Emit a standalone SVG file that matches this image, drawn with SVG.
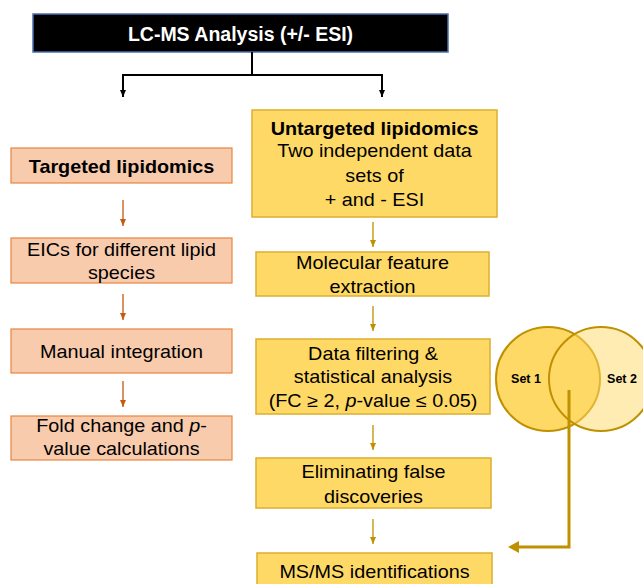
<svg xmlns="http://www.w3.org/2000/svg" width="643" height="584" viewBox="0 0 643 584">
<style>
text{font-family:"Liberation Sans",Arial,sans-serif;font-size:18px;fill:#000;text-anchor:middle}
.b{font-weight:bold}
.left rect{fill:#F8CBAD;stroke:#E8853F;stroke-width:1.2}
.right rect{fill:#FFD966;stroke:#DDAE2E;stroke-width:1.5}
.la{stroke:#C55A11;stroke-width:1.3;fill:none}
.ra{stroke:#BF9000;stroke-width:1.3;fill:none}
.ka{stroke:#000;stroke-width:2;fill:none}
</style>
<defs>
<marker id="mb" markerUnits="userSpaceOnUse" markerWidth="8" markerHeight="8" refX="7" refY="4" orient="auto" viewBox="0 0 8 8"><path d="M0,1 L7,4 L0,7 Z" fill="#000"/></marker>
<marker id="mo" markerUnits="userSpaceOnUse" markerWidth="8" markerHeight="8" refX="7" refY="4" orient="auto" viewBox="0 0 8 8"><path d="M0,1 L7,4 L0,7 Z" fill="#C55A11"/></marker>
<marker id="my" markerUnits="userSpaceOnUse" markerWidth="8" markerHeight="8" refX="7" refY="4" orient="auto" viewBox="0 0 8 8"><path d="M0,1 L7,4 L0,7 Z" fill="#BF9000"/></marker>
</defs>

<g id="lcms">
<rect x="33" y="14" width="415" height="38" fill="#000" stroke="#4A6FB0" stroke-width="1.5"/>
<text x="240.5" y="41" class="b" style="fill:#fff;font-size:19.5px">LC-MS Analysis (+/- ESI)</text>
</g>

<g id="targeted" class="left">
<rect x="11" y="148" width="221" height="35"/>
<g transform="translate(121.5 0) scale(1.1 1)"><text x="0" y="173" class="b">Targeted lipidomics</text></g>
</g>
<g id="eics" class="left">
<rect x="11" y="238" width="221" height="45"/>
<g transform="translate(121.5 0) scale(1.1 1)">
<text x="0" y="256">EICs for different lipid</text>
<text x="0" y="279">species</text>
</g>
</g>
<g id="manual" class="left">
<rect x="11" y="329" width="221" height="44"/>
<g transform="translate(121.5 0) scale(1.1 1)"><text x="0" y="358">Manual integration</text></g>
</g>
<g id="foldchange" class="left">
<rect x="11" y="416" width="221" height="44"/>
<g transform="translate(121.5 0) scale(1.1 1)">
<text x="0" y="432">Fold change and <tspan font-style="italic">p</tspan>-</text>
<text x="0" y="455">value calculations</text>
</g>
</g>

<g id="untargeted" class="right">
<rect x="252" y="110" width="245" height="107"/>
<g transform="translate(374.5 0) scale(1.1 1)">
<text x="0" y="135" class="b">Untargeted lipidomics</text>
<text x="0" y="157">Two independent data</text>
<text x="0" y="182">sets of</text>
<text x="0" y="206">+ and - ESI</text>
</g>
</g>
<g id="molecular" class="right">
<rect x="256" y="252" width="233" height="44"/>
<g transform="translate(372.5 0) scale(1.1 1)">
<text x="0" y="269">Molecular feature</text>
<text x="0" y="293">extraction</text>
</g>
</g>
<g id="filtering" class="right">
<rect x="256" y="339" width="234" height="75"/>
<g transform="translate(373 0) scale(1.1 1)">
<text x="0" y="360">Data filtering &amp;</text>
<text x="0" y="383">statistical analysis</text>
<text x="0" y="407">(FC ≥ 2, <tspan font-style="italic">p</tspan>-value ≤ 0.05)</text>
</g>
</g>
<g id="eliminating" class="right">
<rect x="256" y="458" width="235" height="50"/>
<g transform="translate(373.5 0) scale(1.1 1)">
<text x="0" y="478">Eliminating false</text>
<text x="0" y="503">discoveries</text>
</g>
</g>
<g id="msms" class="right">
<rect x="257" y="553" width="235" height="40"/>
<g transform="translate(374.5 0) scale(1.1 1)"><text x="0" y="578">MS/MS identifications</text></g>
</g>

<g id="venn">
<circle cx="548" cy="379" r="52" fill="#FFD966" stroke="#BF9000" stroke-width="2"/>
<circle cx="601" cy="379" r="52" fill="#FFD966" fill-opacity="0.5" stroke="#BF9000" stroke-width="2"/>
<text x="526" y="383" class="b" style="font-size:12.5px">Set 1</text>
<text x="622" y="383" class="b" style="font-size:12.5px">Set 2</text>
</g>

<g id="connectors">
<polyline class="ka" points="252,52 252,75"/>
<polyline class="ka" points="123,75 382,75"/>
<line class="ka" x1="123" y1="74" x2="123" y2="97" marker-end="url(#mb)"/>
<line class="ka" x1="382" y1="74" x2="382" y2="97" marker-end="url(#mb)"/>

<line class="la" x1="123" y1="200" x2="123" y2="226" marker-end="url(#mo)"/>
<line class="la" x1="123" y1="294" x2="123" y2="320" marker-end="url(#mo)"/>
<line class="la" x1="123" y1="381" x2="123" y2="407" marker-end="url(#mo)"/>

<line class="ra" x1="373" y1="222" x2="373" y2="247" marker-end="url(#my)"/>
<line class="ra" x1="373" y1="306" x2="373" y2="331" marker-end="url(#my)"/>
<line class="ra" x1="373" y1="425" x2="373" y2="450" marker-end="url(#my)"/>
<line class="ra" x1="373" y1="519" x2="373" y2="544" marker-end="url(#my)"/>

<polyline points="569,390 569,547 517,547" fill="none" stroke="#BF9000" stroke-width="3"/>
<path d="M508,547 L519,541 L519,553 Z" fill="#BF9000"/>
</g>
</svg>
